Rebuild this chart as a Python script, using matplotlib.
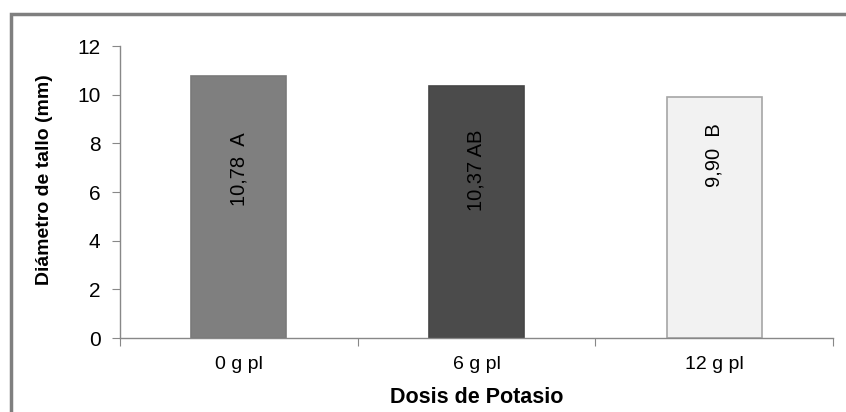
import matplotlib.pyplot as plt
from matplotlib.patches import Rectangle

# datos
dosis = ['0 g pl', '6 g pl', '12 g pl']
diametro = [10.78, 10.37, 9.90]
etiquetas = ['10,78  A', '10,37 AB', '9,90  B']
pos_etiqueta = [8.47, 8.55, 8.84]

colores = ['#7f7f7f', '#4b4b4b', '#f2f2f2']
bordes = ['#7a7a7a', '#464646', '#a6a6a6']

plt.rcParams['font.family'] = ['Liberation Sans', 'DejaVu Sans']

fig = plt.figure(figsize=(8.46, 4.12), dpi=100)
ax = fig.add_axes([0.1418, 0.1796, 0.8428, 0.7087])

x = list(range(len(dosis)))
ax.bar(x, diametro, width=0.40, color=colores, edgecolor=bordes, linewidth=1.2, zorder=2)

for xi, txt, yi in zip(x, etiquetas, pos_etiqueta):
    ax.text(xi, yi, txt, rotation=90, ha='center', va='top', fontsize=14.5, color='black', zorder=3)

ax.set_xlim(-0.5, len(dosis) - 0.5)
ax.set_ylim(0, 12)
ax.set_yticks(range(0, 13, 2))

# marcas en los limites de categoria, etiquetas en el centro
ax.set_xticks([i - 0.5 for i in range(len(dosis) + 1)])
ax.set_xticklabels([])
ax.set_xticks(x, minor=True)
ax.set_xticklabels(dosis, minor=True, fontsize=14)
ax.tick_params(axis='x', which='minor', length=0, pad=13)
ax.tick_params(axis='x', which='major', length=6, color='#888888', direction='out')
ax.tick_params(axis='y', length=6, color='#888888', labelsize=15, pad=8)

for s in ['top', 'right']:
    ax.spines[s].set_visible(False)
for s in ['left', 'bottom']:
    ax.spines[s].set_color('#888888')
    ax.spines[s].set_linewidth(1)

ax.set_ylabel('Diámetro de tallo (mm)', fontsize=14, fontweight='bold')
ax.yaxis.set_label_coords(-0.094, 0.541)
ax.set_xlabel('Dosis de Potasio', fontsize=15.5, fontweight='bold', labelpad=10)

# marco gris del grafico
marco = Rectangle((11 / 846, -0.1), 1.2, 1 - 14 / 412 + 0.1, transform=fig.transFigure,
                  fill=False, edgecolor='#7f7f7f', linewidth=2.5)
fig.patches.append(marco)

fig.savefig('out.png', dpi=100)
